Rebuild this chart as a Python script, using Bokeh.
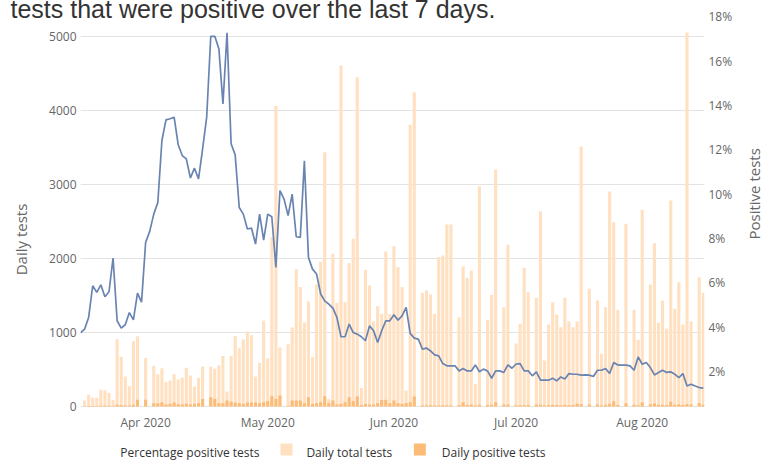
import math
import pandas as pd
from bokeh.plotting import figure
from bokeh.models import (Range1d, LinearAxis, FixedTicker, PrintfTickFormatter,
                          ColumnDataSource, Title)
from bokeh.core.properties import value
from bokeh.embed import file_html
from bokeh.resources import INLINE

# ---------------- data ----------------
line_start = "2020-03-16"
bar_start = "2020-03-17"

pct_positive = [
    3.75, 3.91, 4.44, 5.87, 5.57, 5.91, 5.37, 5.60, 7.12, 4.29,
    3.96, 4.11, 4.66, 4.33, 5.54, 5.13, 7.82, 8.32, 9.10, 9.63,
    12.42, 13.35, 13.40, 13.47, 12.23, 11.74, 11.59, 10.73, 11.17, 10.69,
    12.04, 13.47, 17.11, 17.12, 16.55, 14.07, 17.28, 12.27, 11.77, 9.40,
    9.10, 8.43, 8.47, 7.75, 9.10, 7.93, 9.10, 8.98, 6.70, 10.16,
    9.78, 9.03, 10.00, 8.08, 8.05, 11.50, 7.15, 6.62, 6.40, 5.50,
    5.19, 5.04, 4.86, 4.44, 3.57, 3.57, 4.14, 3.76, 3.69, 3.57,
    3.39, 4.06, 3.84, 3.31, 3.84, 4.29, 4.29, 4.56, 4.32, 4.51,
    4.89, 3.72, 3.51, 3.46, 3.01, 3.06, 2.93, 2.75, 2.71, 2.36,
    2.26, 2.26, 2.26, 2.03, 2.14, 2.03, 2.03, 2.30, 1.99, 2.11,
    2.03, 1.70, 2.03, 2.03, 1.96, 2.30, 2.15, 2.34, 2.36, 2.03,
    2.03, 1.81, 1.99, 1.61, 1.61, 1.61, 1.70, 1.58, 1.76, 1.66,
    1.91, 1.88, 1.88, 1.84, 1.85, 1.84, 1.78, 2.06, 2.06, 2.14,
    1.91, 2.41, 2.30, 2.29, 2.29, 2.26, 2.06, 2.66, 2.33, 2.41,
    2.18, 1.85, 1.96, 2.06, 1.96, 1.99, 1.88, 1.73, 1.91, 1.35,
    1.43, 1.35, 1.28, 1.25,
]

daily_total = [
    80, 158, 117, 117, 225, 216, 185, 90, 909, 670,
    405, 275, 882, 950, 0, 657, 0, 549, 437, 518,
    329, 351, 437, 365, 387, 522, 419, 270, 387, 540,
    0, 536, 509, 554, 684, 203, 684, 954, 788, 905,
    1013, 963, 405, 590, 1161, 650, 2286, 4060, 800, 0,
    846, 1067, 1854, 1615, 1137, 1420, 668, 1650, 1955, 3437,
    100, 2063, 1400, 4608, 1410, 1937, 2266, 4450, 250, 1847,
    1635, 1150, 1356, 1252, 2095, 1250, 2167, 1883, 1612, 216,
    3806, 4248, 0, 1536, 1568, 1514, 1252, 2018, 2040, 2459,
    2459, 0, 1207, 1892, 1739, 1838, 306, 2977, 0, 1171,
    1509, 3203, 0, 1342, 2187, 0, 850, 1117, 1874, 1545,
    0, 1469, 2640, 622, 1108, 1410, 1243, 1072, 1469, 1149,
    1072, 1149, 3514, 0, 1590, 0, 1432, 712, 1342, 2905,
    2491, 1306, 0, 2468, 0, 1306, 901, 2658, 0, 1649,
    2207, 1131, 1432, 1050, 2784, 1320, 1680, 1108, 5054, 1153,
    0, 1748, 1536,
]

daily_positive = [
    5, 8, 6, 6, 10, 10, 9, 6, 25, 20,
    15, 12, 25, 90, 0, 90, 0, 45, 45, 58,
    27, 36, 54, 30, 27, 36, 27, 36, 45, 103,
    0, 126, 103, 45, 45, 81, 63, 54, 45, 36,
    54, 54, 54, 45, 58, 72, 140, 103, 149, 0,
    10, 81, 81, 81, 45, 126, 36, 45, 60, 140,
    45, 81, 27, 36, 58, 126, 72, 135, 20, 36,
    27, 27, 45, 90, 90, 45, 81, 45, 36, 45,
    58, 135, 0, 14, 16, 18, 15, 14, 16, 15,
    14, 0, 20, 58, 22, 27, 12, 25, 0, 20,
    22, 58, 0, 27, 27, 0, 18, 18, 18, 20,
    0, 27, 25, 12, 20, 22, 20, 18, 22, 18,
    20, 36, 30, 0, 27, 0, 27, 14, 25, 35,
    72, 20, 0, 45, 0, 25, 18, 58, 0, 30,
    40, 22, 25, 20, 63, 25, 30, 20, 35, 27,
    0, 45, 25,
]

month_ticks = ["2020-04-01", "2020-05-01", "2020-06-01", "2020-07-01", "2020-08-01"]
month_labels = ["Apr 2020", "May 2020", "Jun 2020", "Jul 2020", "Aug 2020"]
tests_ticks = [0, 1000, 2000, 3000, 4000, 5000]
pct_ticks = [2, 4, 6, 8, 10, 12, 14, 16, 18]

title_text = "tests that were positive over the last 7 days."
legend_labels = ["Percentage positive tests", "Daily total tests", "Daily positive tests"]

# ---------------- geometry helpers ----------------
origin = pd.Timestamp(line_start)
line_x = [(d - origin).days for d in pd.date_range(line_start, periods=len(pct_positive))]
bar_x = [(d - origin).days for d in pd.date_range(bar_start, periods=len(daily_total))]
tick_x = [(pd.Timestamp(m) - origin).days for m in month_ticks]

W, H = 777, 462
# plotting area: x 80..707, zero line at y=406, top at y=16 (canvas px);
# the frame is extended down to the canvas bottom so that the month labels and
# the legend row can be drawn inside it.
FL, FR, FT, ZERO = 80, 707, 16, 406
X_END = 153.3
Y_TOP = 5270
PCT_BOT, PCT_TOP = 0.425, 18.01
ext = H - ZERO
y_per_px = Y_TOP / (ZERO - FT)
pct_per_px = (PCT_TOP - PCT_BOT) / (ZERO - FT)

def px_x(px):
    return (px - FL) / (FR - FL) * X_END

def px_y(py):
    return (ZERO - py) * y_per_px

LIGHT = "#ffe0c1"
DARK = "#fcbb76"
LINE = "#6a84b1"
GRID = "#e3e3e3"
TXT = "#666666"
FONT = "Open Sans"

p = figure(width=W, height=H, output_backend="svg", toolbar_location=None,
           x_range=Range1d(0, X_END), y_range=Range1d(-ext * y_per_px, Y_TOP),
           x_axis_location=None, title=None,
           min_border_left=FL, min_border_right=W - FR, min_border_top=FT,
           min_border_bottom=0)
p.outline_line_color = None
p.background_fill_color = "white"
p.border_fill_color = "white"
p.xgrid.visible = False
p.ygrid.grid_line_color = GRID
p.ygrid.grid_line_width = 1

p.extra_y_ranges = {"pct": Range1d(PCT_BOT - ext * pct_per_px, PCT_TOP)}

bars = ColumnDataSource(dict(x=bar_x, total=daily_total, pos=daily_positive))
p.vbar(x="x", top="total", width=0.76, source=bars, fill_color=LIGHT, line_color=None)
p.vbar(x="x", top="pos", width=0.76, source=bars, fill_color=DARK, line_color=None)
p.line(line_x, pct_positive, y_range_name="pct", line_color=LINE, line_width=1.7)

# y axes
p.yaxis.ticker = FixedTicker(ticks=tests_ticks)
p.ygrid.ticker = FixedTicker(ticks=tests_ticks)
p.yaxis.axis_label = "Daily tests"
ax_r = LinearAxis(y_range_name="pct", ticker=FixedTicker(ticks=pct_ticks),
                  formatter=PrintfTickFormatter(format="%d%%"), axis_label="Positive tests")
p.add_layout(ax_r, "right")

for ax in p.yaxis:
    ax.axis_line_color = None
    ax.major_tick_line_color = None
    ax.minor_tick_line_color = None
    ax.major_tick_out = 0
    ax.major_tick_in = 0
    ax.minor_tick_out = 0
    ax.major_label_text_color = TXT
    ax.major_label_text_font = FONT
    ax.major_label_text_font_size = "12px"
    ax.axis_label_text_color = TXT
    ax.axis_label_text_font = FONT
    ax.axis_label_text_font_size = "15px"
    ax.axis_label_text_font_style = "normal"
    ax.major_label_standoff = 4
p.yaxis[0].axis_label_standoff = 15
ax_r.axis_label_standoff = 19
try:
    ax_r.axis_label_orientation = math.pi / 2
except Exception:
    pass

# month labels of the time axis (placed through the x scale)
p.text(x=tick_x, y=[px_y(422)] * len(tick_x), text=month_labels,
       text_font=value(FONT), text_font_size=value("12px"), text_color=TXT,
       text_align="center", text_baseline="alphabetic")

# title fragment at the top
try:
    t = Title(text=title_text, align="left", offset=10 - FL, vertical_align="middle", standoff=-14,
              text_font="Liberation Sans", text_font_size="25px", text_color="#333333",
              text_font_style="normal")
except Exception:
    t = Title(text=title_text, align="left", offset=10 - FL, vertical_align="middle", standoff=0,
              text_font="Liberation Sans", text_font_size="25px", text_color="#333333",
              text_font_style="normal")
p.add_layout(t, "above")

# legend row along the bottom edge
leg_base = 452
sw_top, sw_bot = 443, 455
p.quad(left=[px_x(281), px_x(415)], right=[px_x(293), px_x(427)],
       top=[px_y(sw_top)] * 2, bottom=[px_y(sw_bot)] * 2,
       fill_color=[LIGHT, DARK], line_color=None)
p.text(x=[px_x(120), px_x(307), px_x(443)], y=[px_y(leg_base)] * 3, text=legend_labels,
       text_font=value(FONT), text_font_size=value("12px"), text_color="#333333",
       text_align="left", text_baseline="alphabetic")

open("out.html", "w").write(file_html(p, INLINE))
